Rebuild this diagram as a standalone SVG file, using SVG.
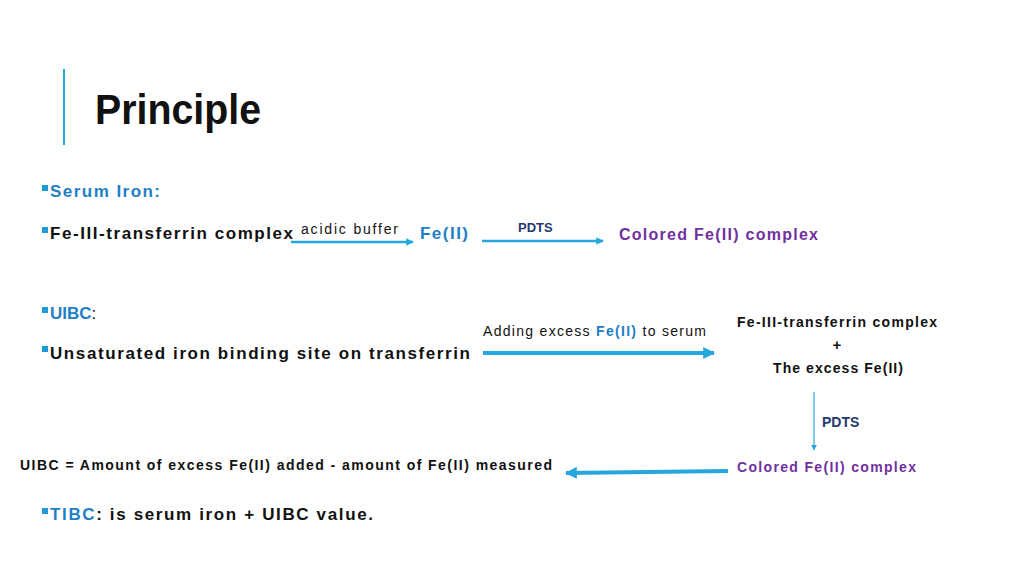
<svg xmlns="http://www.w3.org/2000/svg" width="1024" height="576" viewBox="0 0 1024 576">
<style>
text{font-family:"Liberation Sans",Arial,sans-serif;font-weight:bold;fill:#111}
.b{fill:#1f7fc6}.p{fill:#7030a0}.n{font-weight:normal}.d{fill:#1f3a6e}
.sq{fill:#1f9ad6}
.ln{stroke:#25a6df;fill:none}
</style>
<defs>
<marker id="ah" viewBox="0 0 10 10" refX="9" refY="5" markerWidth="3" markerHeight="3" orient="auto"><path d="M0,0L10,5L0,10z" fill="#25a6df"/></marker>
<marker id="ah2" viewBox="0 0 10 10" refX="9" refY="5" markerWidth="6" markerHeight="6" orient="auto" markerUnits="userSpaceOnUse"><path d="M0,0L10,5L0,10z" fill="#25a6df"/></marker>
</defs>
<rect width="1024" height="576" fill="#fff"/>
<line x1="64" y1="69" x2="64" y2="145" stroke="#25a6df" stroke-width="2"/>
<text x="95" y="124" font-size="42" textLength="166" lengthAdjust="spacingAndGlyphs">Principle</text>
<g id="serum"><rect class="sq" x="42" y="185" width="6" height="6"/><text class="b" x="50" y="197" font-size="17" textLength="110">Serum Iron:</text></g>
<g id="fe3"><rect class="sq" x="42" y="227" width="6" height="6"/><text x="50" y="239" font-size="17" textLength="243">Fe-III-transferrin complex</text></g>
<text class="n" x="301" y="234" font-size="14" textLength="97">acidic buffer</text>
<g id="fe2"><text class="b" x="420" y="239" font-size="17" textLength="48">Fe(II)</text></g>
<text class="d" x="518" y="232" font-size="13">PDTS</text>
<g id="col1"><text class="p" x="619" y="240" font-size="16" textLength="199">Colored Fe(II) complex</text></g>
<g id="uibc"><rect class="sq" x="42" y="307" width="6" height="6"/><text x="50" y="319" font-size="17"><tspan class="b">UIBC</tspan><tspan font-weight="normal">:</tspan></text></g>
<g id="unsat"><rect class="sq" x="42" y="346" width="6" height="6"/><text x="50" y="359" font-size="17" textLength="420">Unsaturated iron binding site on transferrin</text></g>
<text class="n" x="483" y="336" font-size="14" textLength="223">Adding excess <tspan class="b" font-weight="bold">Fe(II)</tspan> to serum</text>
<g id="mix"><text x="737" y="327" font-size="14" textLength="200">Fe-III-transferrin complex</text><text x="837" y="350" font-size="15" text-anchor="middle">+</text><text x="773" y="373" font-size="14" textLength="130">The excess Fe(II)</text></g>
<text class="d" x="822" y="427" font-size="14">PDTS</text>
<g id="col2"><text class="p" x="737" y="472" font-size="14" textLength="179">Colored Fe(II) complex</text></g>
<g id="eq"><text x="20" y="470" font-size="14" textLength="532">UIBC = Amount of excess Fe(II) added - amount of Fe(II) measured</text></g>
<g id="tibc"><rect class="sq" x="42" y="508" width="6" height="6"/><text x="50" y="520" font-size="17" textLength="323"><tspan class="b">TIBC</tspan>: is serum iron + UIBC value.</text></g>
<g id="connectors">
<line class="ln" x1="291" y1="242" x2="413" y2="242" stroke-width="2.5" marker-end="url(#ah)"/>
<line class="ln" x1="482" y1="241" x2="603" y2="241" stroke-width="2.5" marker-end="url(#ah)"/>
<line class="ln" x1="483" y1="353" x2="714" y2="353" stroke-width="4" marker-end="url(#ah)"/>
<line class="ln" x1="814" y1="392" x2="814" y2="450" stroke-width="1.2" marker-end="url(#ah2)"/>
<line class="ln" x1="728" y1="471" x2="566" y2="473" stroke-width="4" marker-end="url(#ah)"/>
</g>
</svg>
